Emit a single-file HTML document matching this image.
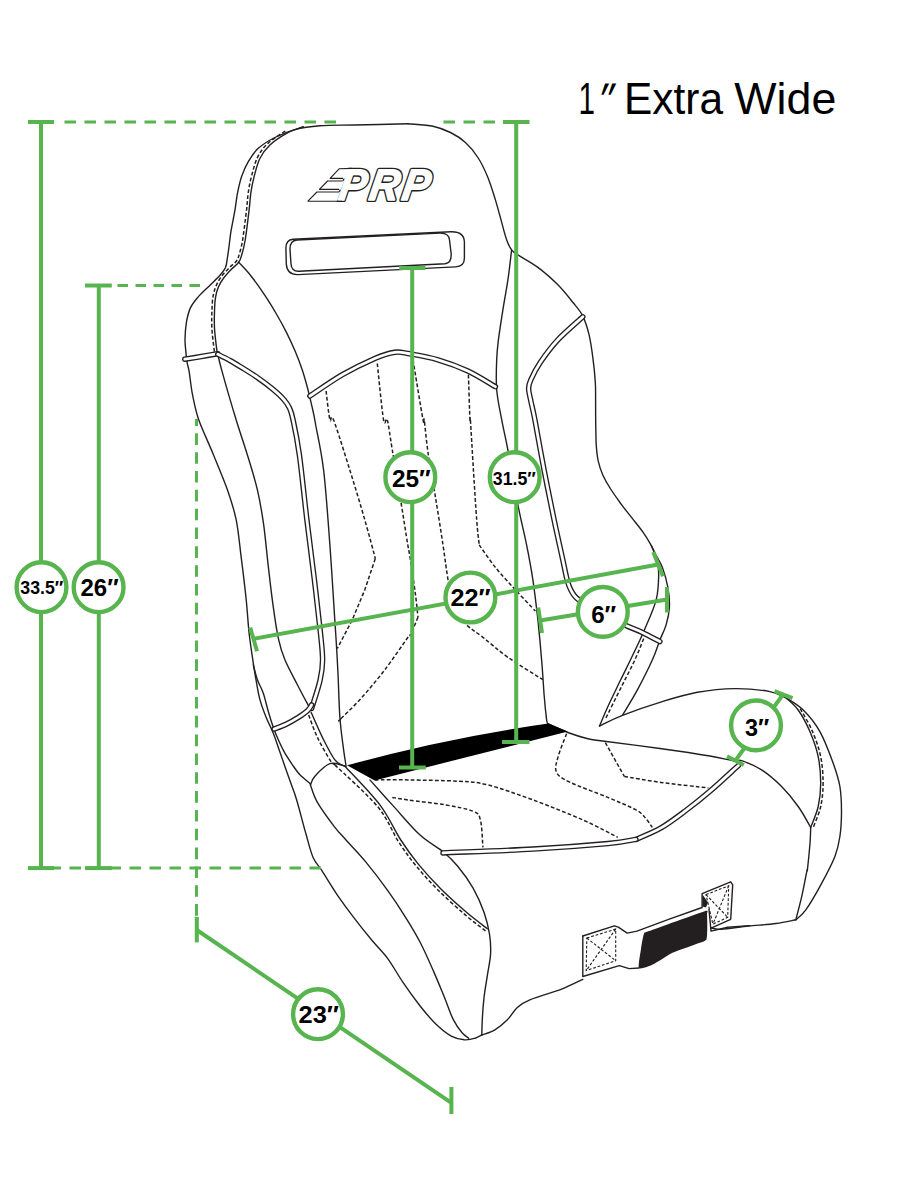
<!DOCTYPE html>
<html lang="en"><head><meta charset="utf-8"><title>1&#8243; Extra Wide seat dimensions</title>
<style>html,body{margin:0;padding:0;background:#fff}body{width:913px;height:1201px;overflow:hidden}svg{display:block}text{font-family:"Liberation Sans",sans-serif}.lb{font-weight:bold;fill:#000}</style></head><body>
<svg width="913" height="1201" viewBox="0 0 913 1201">
<rect width="913" height="1201" fill="#fff"/>
<g fill="none" stroke="#231f20" stroke-width="1.4" stroke-linejoin="round" stroke-linecap="round">
<path d="M408 123.7C399.1 124 369.5 124.7 354.8 125C340.1 125.3 329.9 125 319.9 125.8C309.9 126.6 302.4 127.7 294.9 129.6C287.4 131.6 281 134.4 274.9 137.5C268.8 140.6 262.7 144.3 258.3 148.3C253.8 152.3 251.1 156.9 248.3 161.6C245.5 166.3 243.4 171.3 241.6 176.6C239.8 181.9 238.6 187.7 237.5 193.2C236.4 198.8 236 203.8 235 209.9C233.9 216 232.1 224.9 231.2 229.9C230.3 234.9 230.4 235.6 229.8 240C229.3 244.4 228.4 251.9 227.6 256.5C226.9 261.1 226.7 264.4 225.5 267.5C224.2 270.6 222.7 272.1 220 275.2C217.2 278.3 212.6 282.5 209 286.2C205.3 289.8 201.1 293.5 198 297.1C194.9 300.8 192.2 303.9 190.3 308.1C188.4 312.3 187.3 317.3 186.4 322.4C185.6 327.5 185.1 334.3 185 338.9C184.9 343.5 185.3 346 185.7 349.9C186 353.7 186.4 358.3 187 362C187.6 365.6 188.3 366.4 189.2 371.9C190.1 377.3 190.9 386.8 192.5 394.7C194.1 402.7 195.4 410.1 198.7 419.7C202.1 429.3 207.7 440.8 212.5 452.5C217.3 464.2 223.5 478.7 227.5 489.9C231.4 501.2 233.9 508.7 236.2 519.9C238.5 531.1 239.5 544 241.2 557.4C242.9 570.7 244.9 587.2 246.2 599.8C247.5 612.5 248 622.7 249.1 633.3C250.3 643.9 252.1 654.9 253.3 663.3C254.6 671.6 255.5 677.1 256.6 683.2C257.7 689.3 258.4 694.3 260 699.9C261.5 705.4 263.6 711 265.8 716.5C268 722.1 271.1 727.6 273.3 733.2C275.5 738.7 277.2 744.3 279.1 749.8C281.1 755.4 283 760.9 284.9 766.5C286.9 772 288.8 777.6 290.8 783.1C292.7 788.7 294 791.1 296.6 799.8C299.2 808.4 303.4 825.2 306.2 834.8C308.9 844.5 310.5 851.6 313.1 857.5C315.8 863.5 317.9 864.5 321.9 870.7C325.9 876.9 331.8 886.7 337.2 894.8C342.7 902.8 348.9 911.2 354.8 918.9C360.6 926.5 366.8 934.2 372.3 940.8C377.8 947.3 382.5 951.4 387.6 958.3C392.7 965.2 397.5 974.4 403 982.4C408.4 990.4 415 999.5 420.5 1006.5C426 1013.4 430.7 1019.1 435.8 1024C440.9 1028.9 446.4 1033.4 451.2 1036.1C455.9 1038.7 460.3 1039.4 464.3 1039.8C468.3 1040.1 472.3 1039.1 475.2 1038.2C478.2 1037.4 480.7 1035.5 481.8 1035"/>
<path d="M253.3 664.9C254 667.4 255.8 675.2 257.5 679.9C259.1 684.6 261.5 688 263.3 693.2C265.1 698.5 266.6 705.7 268.3 711.5C270 717.4 271.8 723.2 273.6 728.2C275.4 733.2 277.2 737.3 279.1 741.5C281 745.7 282.7 749.3 284.9 753.2C287.2 757 289.9 761.2 292.4 764.8C294.9 768.4 296.9 771.6 299.9 774.8C303 778 308.9 782.4 310.7 784"/>
<path d="M408 123.7C412.2 124.2 425.9 124.8 433 126.2C440.1 127.7 445 129.8 450.5 132.5C455.9 135.2 460.9 138.3 465.4 142.5C470 146.6 474.2 151.6 477.9 157.5C481.7 163.3 485 170.4 487.9 177.4C490.8 184.5 493.1 192.4 495.4 199.9C497.7 207.4 499.8 215.7 501.7 222.4C503.5 229.1 505 235.3 506.7 239.9C508.3 244.5 509.8 247.4 511.6 249.9C513.5 252.4 513.5 252 517.9 254.9C522.3 257.8 531.2 262.4 537.9 267.4C544.5 272.3 552 279 557.9 284.8C563.7 290.7 568.7 297.1 572.8 302.3C577 307.5 580.1 310.6 582.8 316.1C585.5 321.5 587.4 327.9 589.1 334.8C590.7 341.7 591.8 349.4 592.8 357.3C593.9 365.2 594.9 375.1 595.3 382.2C595.8 389.4 595.5 393.2 595.6 400C595.7 406.8 595.6 415.3 595.7 423C595.9 430.7 595.9 439.6 596.3 446C596.8 452.4 597.2 456.5 598.3 461.3C599.4 466.2 600.9 470.6 602.9 475.2C605 479.8 607.5 484.1 610.6 489C613.7 493.8 617.8 499.4 621.3 504.3C624.9 509.2 628.5 513.5 632.1 518.1C635.7 522.7 639.8 527.6 642.8 531.9C645.9 536.2 648.2 540.1 650.5 544.2C652.8 548.3 654.6 552.6 656.6 556.4C658.6 560.3 660.5 562.3 662.4 567.4C664.3 572.6 666.7 580.8 667.9 587.4C669.1 594.1 669.7 601.1 669.4 607.4C669.1 613.6 667.7 619.5 666.1 624.9C664.6 630.3 662.2 634 659.9 639.9C657.6 645.7 656.2 651.5 652.4 659.8C648.7 668.2 642.4 680.6 637.4 689.8C632.4 699.1 624.9 711 622.4 715.3"/>
<path d="M303.2 126.6C300.5 127.8 292.1 130.3 286.6 133.3C281 136.4 274.4 140.8 269.9 145C265.5 149.1 262.6 153 260 158.3C257.3 163.5 255.7 170.8 254.1 176.6C252.6 182.4 251.6 187.7 250.8 193.2C250 198.8 250.1 202.1 249.1 209.9C248.2 217.7 246.4 232.6 245.2 240C244 247.4 243 250.5 241.9 254.3C240.8 258 240.5 260 238.6 262.5C236.8 265.1 233.5 267 230.9 269.7C228.4 272.3 225.4 275.5 223.3 278.5C221.1 281.4 219.6 284.1 218.3 287.3C217 290.4 216.2 293.1 215.6 297.1C214.9 301.2 214.6 306.3 214.5 311.4C214.3 316.6 214.2 322.4 214.5 327.9C214.7 333.4 215.7 340.3 216.1 344.4C216.6 348.5 217 351.3 217.2 352.6"/>
<path d="M238.5 262.1C240.6 264.4 246.8 270.6 251.2 276.2C255.7 281.9 261.2 289.7 265.4 296.1C269.7 302.5 273.2 308.4 276.7 314.5C280.3 320.6 283.6 326.8 286.7 332.9C289.7 339 292.6 345.2 295.2 351.3C297.8 357.5 300.2 363.8 302.2 369.7C304.2 375.6 305.9 382 307.2 386.7C308.5 391.4 309 393.6 310 398.1C311.1 402.5 312.6 409.2 313.6 413.6C314.5 418.1 314 415.6 315.7 425C317.4 434.4 321.2 450 323.6 470C326 489.9 328 519.9 329.9 544.9C331.7 569.9 333.5 599 334.8 619.8C336.2 640.6 337 653.5 337.8 669.8C338.7 686 338.9 704.1 339.9 717.5C340.9 730.8 342.6 741.8 343.6 749.9C344.7 758 345.7 763.5 346.1 766.2"/>
<path d="M511.6 249.9C511 254.9 509.4 269.9 507.9 279.8C506.4 289.8 504.5 299.8 502.9 309.8C501.3 319.8 499.5 331.5 498.4 339.8C497.4 348.1 497 351.4 496.7 359.8C496.4 368.1 495.8 379.7 496.7 389.7C497.5 399.7 499.8 409.7 501.7 419.7C503.5 429.7 505.2 435.8 507.9 450C510.6 464.2 514.8 489.1 517.9 504.9C521 520.7 524.1 532.4 526.6 544.9C529.1 557.4 531 567.4 532.9 579.8C534.7 592.3 536.4 606.5 537.9 619.8C539.3 633.1 540.6 647.3 541.6 659.8C542.7 672.2 543.3 684.7 544.1 694.7C544.9 704.7 546 714.9 546.6 719.7C547.2 724.5 547.7 723.1 547.9 723.7"/>
<path d="M218.3 356.5C218.9 359 219.2 361.3 222.2 371.9C225.1 382.5 232 406.2 236.2 420C240.4 433.8 243.9 443.3 247.4 455C251 466.6 254.7 478.3 257.4 489.9C260.1 501.6 261.8 511.6 263.7 524.9C265.5 538.2 267 555.7 268.7 569.9C270.3 584 272 598.2 273.7 609.8C275.3 621.5 276.8 631.5 278.7 639.8C280.5 648.1 281.8 652.3 284.9 659.8C288 667.3 293.4 677 297.4 684.7C301.3 692.4 306.7 702.4 308.6 706"/>
<path d="M651.4 545.7C652.3 548.1 655.7 555.1 656.9 559.9C658.1 564.8 658.8 568.3 658.7 574.9C658.5 581.6 658.5 590.7 656.2 599.9C653.8 609.1 648.3 620.7 644.4 629.9C640.5 639 636.9 646.5 632.9 654.8C629 663.2 624.7 671.5 620.7 679.8C616.7 688.1 612.2 697.1 608.7 704.8C605.2 712.5 601 722.5 599.5 726"/>
<path d="M599.5 726C603.3 724.2 612.4 719.2 622.4 715.3C632.5 711.3 647.4 706.1 659.9 702.3C672.4 698.5 684.9 694.6 697.4 692.3C709.9 690 722.7 688.7 734.8 688.6C746.9 688.5 761.3 690 769.9 691.6C778.6 693.3 781 695.2 786.6 698.3C792.1 701.4 797.7 704.4 803.2 710C808.8 715.5 814.9 722.7 819.9 731.6C824.9 740.5 829.9 754.1 833.2 763.2C836.5 772.4 838.5 778.5 839.9 786.5C841.2 794.6 841.5 803.2 841.5 811.5C841.5 819.8 841 829 839.9 836.5C838.8 844 838 848.4 834.9 856.4C831.7 864.5 825.7 875.9 820.8 884.8C816 893.7 810 904 805.8 909.8C801.7 915.6 797.5 918.1 795.8 919.8"/>
<path d="M786.6 698.3C788.5 700.2 794.4 704.4 798.2 710C802.1 715.5 806.6 723.8 809.9 731.6C813.2 739.4 816.4 748 818.2 756.6C820 765.2 820.7 774.9 820.7 783.2C820.7 791.5 819.9 799.2 818.2 806.5C816.6 813.9 812 823.8 810.7 827.3"/>
<path d="M810.7 827.3C810.6 830.2 810.5 837.7 809.9 844.8C809.3 851.9 807.9 865.6 807.4 869.8C806.9 873.9 808 865.7 807.1 869.9C806.2 874 804 886.5 802.1 894.8C800.2 903.2 796.9 915.6 795.8 919.8"/>
<path d="M795.8 919.8C792.5 920.4 783.8 922.5 775.9 923.5C768 924.6 757.5 925.1 748.4 926C739.2 927 727.2 929 720.9 929.3C714.7 929.6 712.6 928 710.9 927.8"/>
<path d="M547.9 723.7C551.2 725.2 561.2 730 567.8 732.5C574.5 735 582.1 737.3 587.8 738.7C593.6 740.2 590.4 739.4 602.5 741C614.5 742.6 642 746 659.9 748.5C677.8 751 697.4 753.9 709.9 756C722.3 758.1 729.5 760.2 734.8 761C740.1 761.8 737.2 759.2 741.6 760.7C746.1 762.2 755 765.6 761.6 769.9C768.3 774.2 775.5 780.4 781.6 786.5C787.7 792.6 793.4 799.7 798.2 806.5C803.1 813.3 808.6 823.8 810.7 827.3"/>
<path d="M369.9 779.9C373.6 784.1 384 795.7 392.3 804.9C400.7 814 411.3 827 419.8 834.8C428.3 842.7 437.2 846.8 443.5 852C449.8 857.3 452.8 860.3 457.7 866.3C462.7 872.3 468.7 880.5 473.1 888.2C477.4 895.9 481.3 904.6 484 912.3C486.7 920 488.4 927.3 489.5 934.2C490.6 941.1 490.9 947 490.6 953.9C490.2 960.8 488.4 968.5 487.3 975.8C486.2 983.1 484.8 990.4 484 997.7C483.2 1005 482.6 1013.4 482.3 1019.6C481.9 1025.8 481.9 1032.4 481.8 1035"/>
<path d="M310.4 784.9C311.2 783.4 311.7 779.7 314.9 776.2C318.2 772.6 324.9 765.3 329.9 763.7C334.9 762 342.4 765.7 344.9 766.2"/>
<path d="M344.9 766.2C350.7 772.6 370.5 792.6 379.9 804.9C389.2 817.2 394.4 830.1 400.8 840C407.2 849.9 411.7 856.1 418.3 864.1C424.9 872.1 432.2 880.2 440.2 888.2C448.2 896.2 458.6 905.5 466.5 912.3C474.3 919 483.8 926 487.3 928.7"/>
<path d="M311.2 712.5C313 716.6 318.5 729.5 322.4 737.4C326.4 745.4 331.1 755.1 334.9 759.9C338.6 764.7 343.2 765.1 344.9 766.2"/>
<path d="M310.4 784.9C311.6 787.8 313.3 795.3 317.4 802.4C321.5 809.5 330.1 821.1 334.9 827.4C339.7 833.6 340.9 834.2 346 840C351.1 845.8 358.8 853.5 365.7 861.9C372.7 870.3 381.1 881.3 387.6 890.4C394.2 899.5 399.7 907.9 405.1 916.7C410.6 925.4 415.7 933.8 420.5 943C425.2 952.1 429.6 962.3 433.6 971.4C437.6 980.6 441.3 989.7 444.6 997.7C447.9 1005.8 450.4 1013.8 453.3 1019.6C456.3 1025.5 459.5 1029.7 462.1 1032.8C464.7 1035.9 467.6 1037.3 468.7 1038.2"/>
<path d="M481.8 1035C484 1034.1 490.6 1032.4 494.9 1029.8C499.1 1027.3 503.6 1023.6 507.4 1019.8C511.1 1016.1 513.6 1010.7 517.3 1007.4C521.1 1004 522.8 1002.8 529.8 999.9C536.9 996.9 553.1 992.3 559.8 989.9C566.5 987.4 566.2 987.1 570 985.3C573.8 983.6 580.7 980.4 582.8 979.4"/>
<path d="M582.8 936L614.4 925.8L618.3 927.2L627.2 933.1L637 931.1L668.6 919.3L702.1 907.5L702.1 893.7L730.7 881.8L732.7 884.8L730.7 919.3L711 928.2"/>
<path d="M582.8 936L582.8 976.5L619.3 965.6L629.1 968.6L639 968"/>
<path d="M709 909.4L711 931.1L727.7 927.2L750 925.6"/>
<path d="M285.9 248Q286 240 293 239.3L451 231.8Q464 231.5 464.4 242L464.4 258Q464.5 266.3 455.6 266.9L298 274.6Q287 275 286.3 264Z"/>
<path d="M290 249Q290 240.5 297 240L440 233.1Q449 232.8 449.5 240L451.2 254Q451.5 263.2 445 263.7L299 271.2Q291.5 271.5 291 264Z"/>
</g>
<g fill="none" stroke="#231f20" stroke-width="1.5" stroke-dasharray="3.8 2.2">
<path d="M285.3 131C282.5 133 272.8 138.7 268.2 143.1C263.5 147.4 260.4 151.6 257.6 157.1C254.9 162.6 253.2 170 251.6 175.9C250 181.9 249.1 187.2 248.2 192.9C247.4 198.5 247.5 201.8 246.6 209.6C245.6 217.4 243.8 232.3 242.7 239.6C241.5 246.9 240.5 250 239.4 253.6C238.4 257.1 238.2 258.6 236.5 261C234.8 263.4 231.6 265.2 229.1 267.9C226.5 270.5 223.3 273.9 221.1 276.9C218.9 280 217.3 283 215.9 286.3C214.5 289.6 213.7 292.6 213 296.7C212.3 300.9 212.1 306.1 211.9 311.3C211.7 316.6 211.6 322.5 211.9 328C212.1 333.6 213.1 340.5 213.5 344.7C214 348.8 214.4 351.6 214.6 353"/>
<path d="M643.7 638.6C642.2 642.1 638.5 652.1 634.9 659.8C631.4 667.5 627.4 674.8 622.4 684.8C617.4 694.8 607.9 714 605 719.8"/>
<path d="M326.1 391C326.7 395.8 328.6 414.9 329.9 419.7C331.1 424.5 330.3 411.6 333.6 420C336.9 428.4 344.6 453.3 349.8 470C355 486.6 360.6 505.1 364.8 519.9C369.1 534.7 373.6 552.2 375.3 558.6"/>
<path d="M375.3 558.6L364.8 589.8L352.3 619.8L337.3 648.5"/>
<path d="M377.3 363.5C378.3 372.9 381.9 410.3 383.5 419.7C385.2 429.1 385.8 415 387.3 420C388.7 425 390 436.2 392.3 450C394.6 463.7 398.4 486.6 401 502.4C403.6 518.2 406.2 535.3 407.8 544.9C409.4 554.4 409.2 551.5 410.5 559.9C411.8 568.2 414.2 585.3 415.5 594.8C416.7 604.4 417.6 613.6 418 617.3"/>
<path d="M418 617.3C416.7 620.2 412.2 631.5 410.5 634.8C408.8 638.1 412.3 631.5 408 637.3C403.7 643.1 392.8 659.3 384.8 669.8C376.8 680.2 367.3 691.4 359.8 699.7C352.3 708 343 716.5 339.8 719.7C336.7 722.9 340.9 718.9 341.1 718.7"/>
<path d="M413 359.8C414.7 369.8 421.1 409.7 423 419.7C424.9 429.7 423.4 414.5 424.2 420C425.1 425.5 426.1 439.6 428 452.5C429.9 465.4 433 482 435.5 497.4C438 512.8 440.9 531.1 443 544.9C445 558.6 446.5 570.7 448 579.8C449.4 589 451.1 596.5 451.7 599.8"/>
<path d="M451.7 599.8C453.8 603.6 459 616.1 464.2 622.3C469.4 628.5 475.6 631.5 482.9 637.3C490.2 643.1 497.9 650.2 507.9 657.3C517.9 664.3 537 676 542.9 679.7"/>
<path d="M468.4 374.7C468.7 382.2 469.6 412.2 469.9 419.7C470.3 427.2 469.9 411.6 470.4 420C471 428.4 472.4 453.3 473.4 470C474.5 486.6 475.7 507.4 476.7 519.9C477.6 532.4 478.8 540.7 479.2 544.9"/>
<path d="M479.2 544.9C481.9 548.6 489.4 559.9 495.4 567.4C501.4 574.8 508.7 582.5 515.4 589.8C522.1 597.1 532 607.5 535.4 611.1"/>
<path d="M800.2 708.6C802.2 712.3 808.7 722.7 812.1 730.6C815.5 738.6 818.7 747.3 820.6 756.1C822.4 764.8 823.1 774.7 823.1 783.2C823.1 791.7 822.2 799.5 820.6 807C818.9 814.5 814.2 824.6 813 828.1"/>
<path d="M334.9 764.9C342 771.9 367 793.8 377.6 806.6C388.2 819.3 392 831.6 398.4 841.5C404.8 851.4 409.5 857.8 416.1 865.9C422.8 874 430.1 882.1 438.2 890.2C446.3 898.3 456.8 907.6 464.7 914.4C472.5 921.2 482.1 928.2 485.6 930.9"/>
<path d="M308.7 715C310.1 718.7 313.9 730 317.4 737.4C321 744.9 327 755.3 329.9 759.9C332.8 764.5 334.1 764.1 334.9 764.9"/>
<path d="M374.9 779.9C380.4 779.9 394.2 779.7 408 779.9C421.8 780.2 444.6 780.4 458 781.2C471.3 782 475.4 781.8 487.9 784.9C500.4 788.1 517.1 794.1 532.9 799.9C548.7 805.7 568.7 813.7 582.8 819.9C597 826.1 612 834.5 617.8 837.4"/>
<path d="M392.3 797.4C394.9 797.8 399.1 798.7 408 799.9C416.9 801.2 434.6 803 445.5 804.9C456.3 806.8 467.1 808.7 472.9 811.2C478.8 813.7 478.8 813.9 480.4 819.9C482.1 825.9 482.5 842.8 482.9 847.4"/>
<path d="M566.6 733.7C565.1 737.7 559.5 751 557.9 757.5C556.2 763.9 554.5 768.3 556.6 772.4C558.7 776.6 561.8 778.3 570.3 782.4C578.9 786.6 596.9 792.8 607.8 797.4C618.7 802 629.6 806.4 636 809.9C642.4 813.4 643.3 815.7 646 818.7C648.7 821.6 651.2 825.9 652.2 827.4"/>
<path d="M605.3 742.5L624.3 776.4"/>
<path d="M624.3 776.4C630.4 777.4 647 780.5 661 782.4C675 784.4 700.5 787 708.4 787.9"/>
</g>
<g fill="none" stroke-linecap="round" stroke-linejoin="round">
<path d="M184.8 359.2C187.5 358.8 195.8 357.4 201.3 356.5C206.8 355.6 215 354.2 217.8 353.7" stroke="#231f20" stroke-width="5.5"/>
<path d="M184.8 359.2C187.5 358.8 195.8 357.4 201.3 356.5C206.8 355.6 215 354.2 217.8 353.7" stroke="#fff" stroke-width="2.8"/>
<path d="M217.8 354.3C219.8 355.3 225.6 358.1 230 360.5C234.4 363 239.4 366.1 244.2 369C248.9 372 253.6 374.9 258.3 378.2C263.1 381.5 268.2 385.3 272.5 388.9C276.7 392.4 281 396.3 283.8 399.5C286.7 402.7 287.9 404.6 289.5 408C291 411.4 291.5 412.2 293.1 420C294.8 427.8 297.1 438.3 299.4 455C301.7 471.6 304.4 499.1 306.9 519.9C309.4 540.7 312.1 561.1 314.4 579.8C316.6 598.6 319 619 320.4 632.3C321.7 645.6 322.6 651.8 322.6 659.8C322.6 667.8 321.9 672.1 320.1 680.2C318.3 688.4 313 703.8 311.6 708.5" stroke="#231f20" stroke-width="5.5"/>
<path d="M217.8 354.3C219.8 355.3 225.6 358.1 230 360.5C234.4 363 239.4 366.1 244.2 369C248.9 372 253.6 374.9 258.3 378.2C263.1 381.5 268.2 385.3 272.5 388.9C276.7 392.4 281 396.3 283.8 399.5C286.7 402.7 287.9 404.6 289.5 408C291 411.4 291.5 412.2 293.1 420C294.8 427.8 297.1 438.3 299.4 455C301.7 471.6 304.4 499.1 306.9 519.9C309.4 540.7 312.1 561.1 314.4 579.8C316.6 598.6 319 619 320.4 632.3C321.7 645.6 322.6 651.8 322.6 659.8C322.6 667.8 321.9 672.1 320.1 680.2C318.3 688.4 313 703.8 311.6 708.5" stroke="#fff" stroke-width="2.8"/>
<path d="M274.1 729C276.2 728.2 282.6 726 286.6 724C290.6 722.1 294.6 719.7 298.3 717.4C301.9 715 306 712 308.2 709.9C310.5 707.8 311 705.7 311.6 704.9" stroke="#231f20" stroke-width="5.5"/>
<path d="M274.1 729C276.2 728.2 282.6 726 286.6 724C290.6 722.1 294.6 719.7 298.3 717.4C301.9 715 306 712 308.2 709.9C310.5 707.8 311 705.7 311.6 704.9" stroke="#fff" stroke-width="2.8"/>
<path d="M309.9 396C315.3 392.4 331.5 381 342.3 374.7C353.2 368.5 366.1 362.3 374.8 358.5C383.5 354.8 389.3 353.1 394.8 352.3C400.3 351.4 400.8 352.3 408 353.5C415.2 354.8 428 356.8 438 359.8C448 362.7 458.4 366.5 467.9 371C477.5 375.5 490.8 384.1 495.4 386.7" stroke="#231f20" stroke-width="5.5"/>
<path d="M309.9 396C315.3 392.4 331.5 381 342.3 374.7C353.2 368.5 366.1 362.3 374.8 358.5C383.5 354.8 389.3 353.1 394.8 352.3C400.3 351.4 400.8 352.3 408 353.5C415.2 354.8 428 356.8 438 359.8C448 362.7 458.4 366.5 467.9 371C477.5 375.5 490.8 384.1 495.4 386.7" stroke="#fff" stroke-width="2.8"/>
<path d="M582.8 316.8C578.7 320.6 564.9 332.2 557.9 339.8C550.8 347.4 544.9 355.6 540.4 362.3C535.9 368.9 532.8 375.4 530.9 379.7C528.9 384.1 528.6 384.7 528.6 388.5C528.7 392.2 530.1 397 531.1 402.2C532.2 407.4 532.7 408.4 534.9 419.7C537 431 540.9 453.3 544.1 470C547.3 486.7 551 504.9 554.1 519.9C557.2 534.9 560.6 549.5 562.8 559.9C565.1 570.3 566 576.4 567.8 582.3C569.7 588.2 571.4 591.8 574.1 595.3C576.8 598.9 578.9 600.3 584.1 603.6C589.3 606.8 598.4 611.2 605.3 614.8C612.2 618.4 619.1 622.4 625.3 625.3C631.5 628.2 636.6 629.6 642.4 632.4C648.2 635.1 657 640.1 659.9 641.6" stroke="#231f20" stroke-width="5.5"/>
<path d="M582.8 316.8C578.7 320.6 564.9 332.2 557.9 339.8C550.8 347.4 544.9 355.6 540.4 362.3C535.9 368.9 532.8 375.4 530.9 379.7C528.9 384.1 528.6 384.7 528.6 388.5C528.7 392.2 530.1 397 531.1 402.2C532.2 407.4 532.7 408.4 534.9 419.7C537 431 540.9 453.3 544.1 470C547.3 486.7 551 504.9 554.1 519.9C557.2 534.9 560.6 549.5 562.8 559.9C565.1 570.3 566 576.4 567.8 582.3C569.7 588.2 571.4 591.8 574.1 595.3C576.8 598.9 578.9 600.3 584.1 603.6C589.3 606.8 598.4 611.2 605.3 614.8C612.2 618.4 619.1 622.4 625.3 625.3C631.5 628.2 636.6 629.6 642.4 632.4C648.2 635.1 657 640.1 659.9 641.6" stroke="#fff" stroke-width="2.8"/>
<path d="M738.4 765.5C733.8 769.6 719.7 782.9 710.9 790.4C702.2 797.9 694.3 804.2 686 810.4C677.6 816.7 669.3 823.1 661 827.9C652.7 832.7 640.2 837.5 636 839.4" stroke="#231f20" stroke-width="5.5"/>
<path d="M738.4 765.5C733.8 769.6 719.7 782.9 710.9 790.4C702.2 797.9 694.3 804.2 686 810.4C677.6 816.7 669.3 823.1 661 827.9C652.7 832.7 640.2 837.5 636 839.4" stroke="#fff" stroke-width="2.8"/>
<path d="M443 852.9C458 852.2 505.4 850.7 532.9 849.1C560.3 847.6 590.6 845.2 607.8 843.6C625 842 631.3 840.1 636 839.4" stroke="#231f20" stroke-width="5.5"/>
<path d="M443 852.9C458 852.2 505.4 850.7 532.9 849.1C560.3 847.6 590.6 845.2 607.8 843.6C625 842 631.3 840.1 636 839.4" stroke="#fff" stroke-width="2.8"/>
</g>
<path d="M347 765.3 Q450 737 548.5 723.6 L567.9 731.6 L374.6 780.4 Z" fill="#000"/>
<g fill="none" stroke="#231f20" stroke-width="1.1" stroke-dasharray="2.8 1.8"><path d="M586.8 938L615.7 929.1L615.7 960.7L586.2 970.6Z"/><path d="M586.8 938L615.7 960.7"/><path d="M615.7 929.1L586.2 970.6"/><path d="M706 894.6L728.7 885.8L727.7 917.3L712.9 924.2Z"/><path d="M706 894.6L727.7 917.3"/><path d="M728.7 885.8L712.9 924.2"/></g>
<path d="M643.9 934.1C644.7 932.3 642.9 933.4 648.9 931.1C654.9 928.9 698.3 913.1 704.1 911.4C709.9 909.7 706.8 911.6 707 914.4C707.3 917.1 707.7 936 706.6 939C705.5 942 699.6 942.6 696.2 943.9C692.8 945.3 676.9 950.7 672.5 952.8C668.2 954.9 656.2 963.1 652.8 964.6C649.5 966.2 640.2 969.6 639 968C637.8 966.4 640.5 952.3 641 948.9C641.5 945.5 643.1 935.9 643.9 934.1Z" fill="#231f20"/>
<path d="M702.5 894.6L708 902.5L706 907.5L702.5 906.5Z" fill="#231f20"/>
<g stroke-linejoin="round"><text transform="translate(337.3 200) skewX(-9) scale(0.94 1)" font-size="44" font-weight="bold" font-style="italic" style="letter-spacing:3.1px" fill="#231f20" stroke="#231f20" stroke-width="4.2">PRP</text><text transform="translate(337.3 200) skewX(-9) scale(0.94 1)" font-size="44" font-weight="bold" font-style="italic" style="letter-spacing:3.1px" fill="#fff" stroke="#fff" stroke-width="1.3">PRP</text><g fill="#fff" stroke="#231f20" stroke-width="1.1"><path stroke="none" d="M350 168.6L339.1 168.6L330.1 178.4L345 178.4Z"/><path stroke="none" d="M344 181L327.6 181L319.4 189.4L341 189.4Z"/><path stroke="none" d="M340 192L316.9 192L307.9 201.3L337 201.3Z"/><path fill="none" d="M352 168.4L339.1 168.8L330.1 178.4L343 178.4"/><path fill="none" d="M342.6 181L327.6 181L319.4 189.4L339 189.4"/><path fill="none" d="M339 192L316.9 192L307.9 201.2L342 201.2"/></g></g>
<g fill="none" stroke="#57b44e">
<line x1="41" y1="122" x2="41" y2="868.1" stroke-width="4"/>
<line x1="28" y1="122" x2="54" y2="122" stroke-width="4"/>
<line x1="28" y1="868.1" x2="54" y2="868.1" stroke-width="4"/>
<line x1="98.8" y1="285.5" x2="98.8" y2="868.1" stroke-width="4"/>
<line x1="85" y1="285.5" x2="111.8" y2="285.5" stroke-width="4"/>
<line x1="85" y1="868.1" x2="111.8" y2="868.1" stroke-width="4"/>
<line x1="64.5" y1="122" x2="336.5" y2="122" stroke-width="3" stroke-dasharray="11.5 8.5" stroke-dashoffset="0"/>
<line x1="443.5" y1="122" x2="500" y2="122" stroke-width="3" stroke-dasharray="11.5 8.5" stroke-dashoffset="0"/>
<line x1="503" y1="122" x2="529.5" y2="122" stroke-width="4"/>
<line x1="516.2" y1="122" x2="516.2" y2="742" stroke-width="4"/>
<line x1="502" y1="742" x2="529.5" y2="742" stroke-width="4"/>
<line x1="412.2" y1="268" x2="412.2" y2="767.5" stroke-width="4"/>
<line x1="399.2" y1="268" x2="425.5" y2="268" stroke-width="4"/>
<line x1="399" y1="767.5" x2="425.8" y2="767.5" stroke-width="4"/>
<line x1="117.5" y1="285.5" x2="201" y2="285.5" stroke-width="3" stroke-dasharray="10.5 7.5" stroke-dashoffset="0"/>
<line x1="49.5" y1="868.1" x2="321.5" y2="868.1" stroke-width="3" stroke-dasharray="11.5 8.5" stroke-dashoffset="0"/>
<line x1="196.5" y1="418.9" x2="196.5" y2="917" stroke-width="3" stroke-dasharray="11.6 7.23" stroke-dashoffset="4.4"/>
<line x1="196.8" y1="916.8" x2="196.8" y2="942.4" stroke-width="4"/>
<line x1="451.4" y1="1087" x2="451.4" y2="1114" stroke-width="4"/>
<line x1="196.8" y1="930" x2="451.4" y2="1102.8" stroke-width="4"/>
<line x1="253.5" y1="638.8" x2="658.2" y2="564.5" stroke-width="4"/>
<line x1="250.2" y1="627.5" x2="257" y2="651.2" stroke-width="4"/>
<line x1="653.2" y1="552" x2="663" y2="576.2" stroke-width="4"/>
<line x1="540.2" y1="620.5" x2="667" y2="599.5" stroke-width="4"/>
<line x1="538.2" y1="607.5" x2="542" y2="633" stroke-width="4"/>
<line x1="667" y1="587" x2="667" y2="612.5" stroke-width="4"/>
<line x1="735.5" y1="760.5" x2="783" y2="694.5" stroke-width="4"/>
<line x1="727" y1="756.2" x2="743.8" y2="765" stroke-width="4"/>
<line x1="774.5" y1="691.2" x2="792.5" y2="698.2" stroke-width="4"/>
<circle cx="41.5" cy="587.2" r="24.9" fill="#fff" stroke-width="4.4"/>
<circle cx="98.6" cy="587.2" r="24.9" fill="#fff" stroke-width="4.4"/>
<circle cx="410.3" cy="477.2" r="24.9" fill="#fff" stroke-width="4.4"/>
<circle cx="514.7" cy="477.2" r="24.9" fill="#fff" stroke-width="4.4"/>
<circle cx="470.4" cy="597.5" r="24.9" fill="#fff" stroke-width="4.4"/>
<circle cx="602.8" cy="611.9" r="24.9" fill="#fff" stroke-width="4.4"/>
<circle cx="756" cy="725.4" r="24.9" fill="#fff" stroke-width="4.4"/>
<circle cx="318" cy="1014.2" r="24.9" fill="#fff" stroke-width="4.4"/>
</g>
<text class="lb" x="20.3" y="593.9" font-size="17.5" textLength="43" lengthAdjust="spacingAndGlyphs">33.5&#8243;</text>
<text class="lb" x="80.5" y="596.2" font-size="23" textLength="38.2" lengthAdjust="spacingAndGlyphs">26&#8243;</text>
<text class="lb" x="392" y="486.8" font-size="23" textLength="38.8" lengthAdjust="spacingAndGlyphs">25&#8243;</text>
<text class="lb" x="492.8" y="485.2" font-size="18.6" textLength="43" lengthAdjust="spacingAndGlyphs">31.5&#8243;</text>
<text class="lb" x="450.4" y="605.5" font-size="23" textLength="40.2" lengthAdjust="spacingAndGlyphs">22&#8243;</text>
<text class="lb" x="591.2" y="622.5" font-size="23" textLength="25" lengthAdjust="spacingAndGlyphs">6&#8243;</text>
<text class="lb" x="745" y="735.5" font-size="23" textLength="24.2" lengthAdjust="spacingAndGlyphs">3&#8243;</text>
<text class="lb" x="298.5" y="1023" font-size="23" textLength="40.5" lengthAdjust="spacingAndGlyphs">23&#8243;</text>
<text x="578.5" y="114.2" font-size="44.5" fill="#000" textLength="16.5" lengthAdjust="spacingAndGlyphs">1</text>
<text transform="translate(595.5 114.2) skewX(-12)" font-size="44.5" fill="#000" textLength="15" lengthAdjust="spacingAndGlyphs">&#8243;</text>
<text x="624" y="114.2" font-size="44.5" fill="#000" textLength="99" lengthAdjust="spacingAndGlyphs">Extra</text>
<text x="734.3" y="114.2" font-size="44.5" fill="#000" textLength="102" lengthAdjust="spacingAndGlyphs">Wide</text>
</svg></body></html>
